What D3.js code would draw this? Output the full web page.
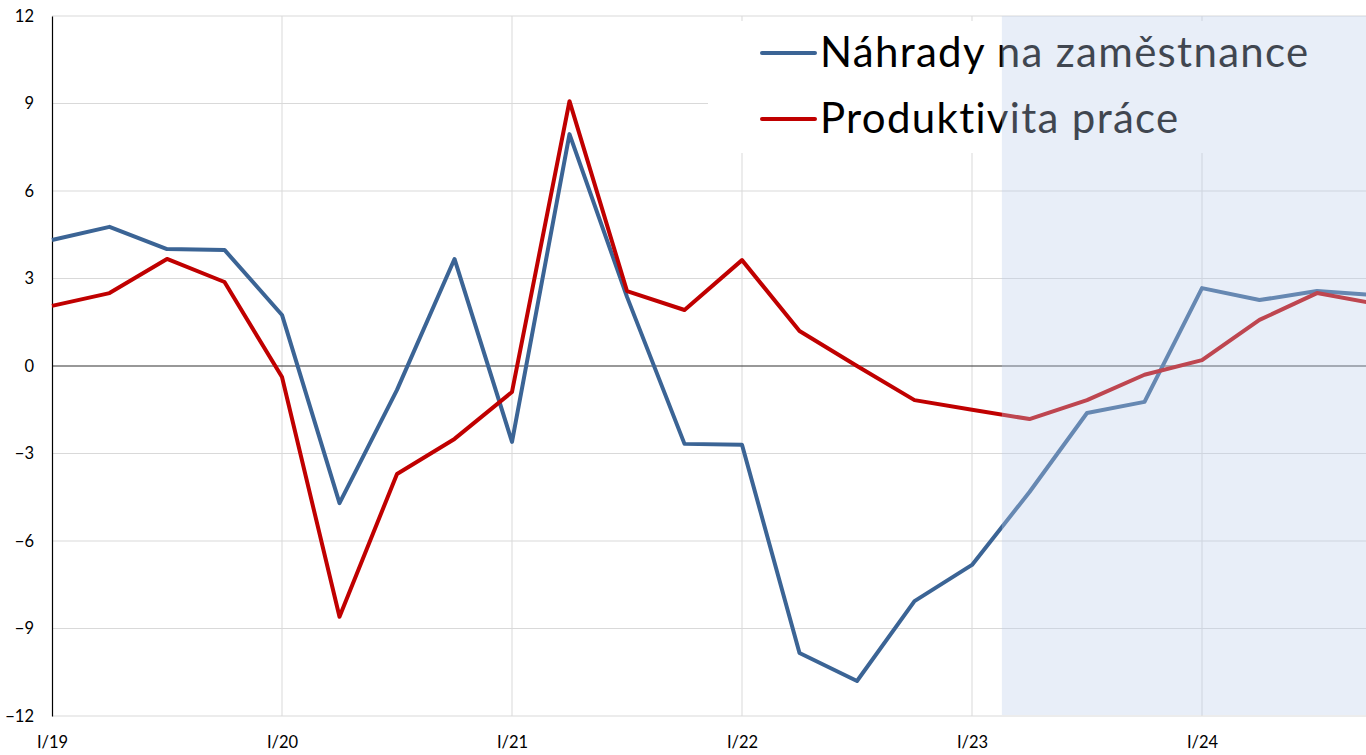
<!DOCTYPE html>
<html><head><meta charset="utf-8">
<script src="https://cdn.jsdelivr.net/npm/d3@7"></script>
<style>html,body{margin:0;padding:0;background:#fff;overflow:hidden}svg{display:block}</style>
</head><body>
<svg id="chart" width="1366" height="755"></svg>
<script>
const quarters = ["I/19","II/19","III/19","IV/19","I/20","II/20","III/20","IV/20","I/21","II/21","III/21","IV/21","I/22","II/22","III/22","IV/22","I/23","II/23","III/23","IV/23","I/24","II/24","III/24","IV/24"];
const nahrady = [4.32,4.77,4.01,3.98,1.75,-4.7,-0.82,3.67,-2.6,7.95,2.37,-2.67,-2.7,-9.84,-10.8,-8.06,-6.82,-4.32,-1.61,-1.23,2.67,2.26,2.57,2.43];
const produktivita = [2.06,2.5,3.67,2.88,-0.38,-8.6,-3.7,-2.5,-0.89,9.08,2.57,1.92,3.63,1.2,0.0,-1.17,-1.5,-1.82,-1.17,-0.3,0.2,1.58,2.5,2.14];
const yTicks = [-12,-9,-6,-3,0,3,6,9,12];
const xTickLabels = ["I/19","I/20","I/21","I/22","I/23","I/24"];
const seriesNames = ["Náhrady na zaměstnance","Produktivita práce"];
const seriesColors = ["#3b6495","#c00000"];
const forecastStart = 16.52; // quarter index where shaded forecast begins

(function(){
const svg = d3.select("#chart");
const pl = 52, pt = 16, pb = 716;
const x = d3.scaleLinear().domain([0, 23]).range([pl, pl + 23*57.5]);
const y = d3.scaleLinear().domain([-12, 12]).range([pb, pt]);
const font = "Lato, 'Open Sans', sans-serif";

svg.append("g").selectAll("line").data(yTicks.filter(d=>d!==0)).join("line")
  .attr("x1", pl).attr("x2", 1366).attr("y1", d=>y(d)).attr("y2", d=>y(d))
  .attr("stroke", "#d9d9d9").attr("stroke-width", 1);
const yearIdx = xTickLabels.map(l=>quarters.indexOf(l)).filter(i=>i>0);
svg.append("g").selectAll("line").data(yearIdx).join("line")
  .attr("x1", d=>x(d)).attr("x2", d=>x(d)).attr("y1", pt).attr("y2", pb)
  .attr("stroke", "#d9d9d9").attr("stroke-width", 1);

svg.append("rect").attr("x", 708).attr("y", 21).attr("width", 1366-708).attr("height", 132).attr("fill", "#fff");

svg.append("line").attr("x1", pl).attr("x2", 1366).attr("y1", y(0)).attr("y2", y(0))
  .attr("stroke", "#333").attr("stroke-width", 1.2);

const yAxis = d3.axisLeft(y).tickValues(yTicks).tickSize(0).tickPadding(18);
const ya = svg.append("g").attr("transform", `translate(${pl},0)`).call(yAxis);
ya.select(".domain").attr("stroke", "#000").attr("stroke-width", 1.2);
ya.selectAll("text").attr("font-family", font).attr("font-size", 16.5).attr("fill", "#000");

const xAxis = d3.axisBottom(x).tickValues(xTickLabels.map(l=>quarters.indexOf(l)))
  .tickFormat(i=>quarters[i]).tickSize(0).tickPadding(20);
const xa = svg.append("g").attr("transform", `translate(0,${pb})`).call(xAxis);
xa.select(".domain").remove();
xa.selectAll("text").attr("font-family", font).attr("font-size", 16.5).attr("fill", "#000");

const line = d3.line().x((d,i)=>x(i)).y(d=>y(d));
[nahrady, produktivita].forEach((s, k) => {
  svg.append("path").datum(s).attr("d", line).attr("fill", "none")
    .attr("stroke", seriesColors[k]).attr("stroke-width", 4).attr("stroke-linejoin", "round");
});

const lg = svg.append("g");
seriesNames.forEach((n, k) => {
  const cy = 53 + k*66;
  lg.append("line").attr("x1", 762).attr("x2", 815).attr("y1", cy).attr("y2", cy)
    .attr("stroke", seriesColors[k]).attr("stroke-width", 4).attr("stroke-linecap", "round");
  lg.append("text").attr("x", 820).attr("y", cy + 14).text(n)
    .attr("font-family", font).attr("font-size", 42).attr("letter-spacing", "1.3px").attr("fill", "#000");
});

svg.append("rect").attr("x", x(forecastStart)).attr("y", pt).attr("width", 1366 - x(forecastStart)).attr("height", pb - pt - 1)
  .attr("fill", "rgb(188,206,235)").attr("fill-opacity", 0.34);
})();
</script>
</body></html>
